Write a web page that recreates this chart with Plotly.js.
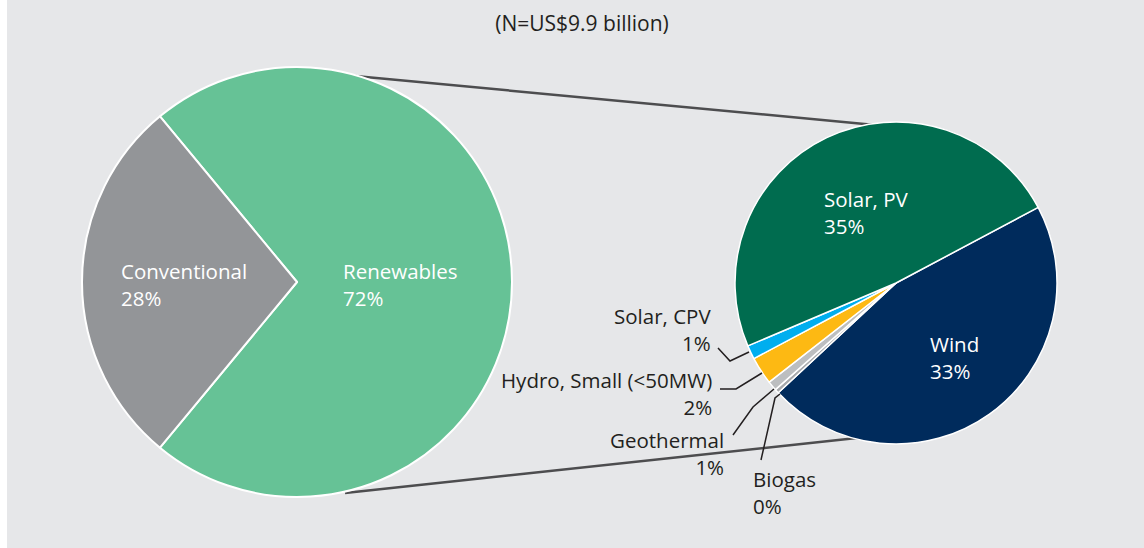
<!DOCTYPE html>
<html>
<head>
<meta charset="utf-8">
<script src="https://cdn.plot.ly/plotly-3.0.1.min.js"></script>
<style>html,body{margin:0;padding:0;background:#fff;}#chart{width:1144px;height:548px;}</style>
</head>
<body>
<div id="chart"></div>
<script>
// ---- data ----
const mainLabels = ["Renewables", "Conventional"];
const mainValues = [72, 28];
const mainColors = ["#66c296", "#939598"];

const subLabels = ["Wind", "Biogas", "Geothermal", "Hydro, Small (<50MW)", "Solar, CPV", "Solar, PV"];
const subValues = [33, 0.3, 0.7, 2, 1, 35];
const subColors = ["#002b5c", "#a7a9ac", "#bcbec0", "#fdb913", "#00aeef", "#006c4f"];
const subPctText = ["33%", "0%", "1%", "2%", "1%", "35%"];

const titleText = "(N=US$9.9 billion)";

// ---- helpers (pixel -> paper) ----
const W = 1144, H = 548;
const px = x => x / W;
const py = y => 1 - y / H;

const FONT = "'Open Sans', 'Noto Sans', sans-serif";
const FS = 20.5;
const dark = "#231f20";

const traces = [
  {
    type: "pie", labels: mainLabels, values: mainValues, sort: false,
    direction: "clockwise", rotation: 320.4,
    marker: {colors: mainColors, line: {color: "#ffffff", width: 2}},
    textinfo: "none", hoverinfo: "label+percent", showlegend: false,
    domain: {x: [px(82), px(512)], y: [py(497), py(67)]}
  },
  {
    type: "pie", labels: subLabels, values: subValues, sort: false,
    direction: "clockwise", rotation: 62,
    marker: {colors: subColors, line: {color: "#ffffff", width: 1.5}},
    textinfo: "none", hoverinfo: "label", showlegend: false,
    domain: {x: [px(735), px(1057)], y: [py(444), py(122)]}
  }
];

function ann(x, y, text, color, xanchor, align) {
  return {x: px(x), y: py(y), xref: "paper", yref: "paper", text: text, showarrow: false,
    xanchor: xanchor, yanchor: "middle", align: align,
    font: {family: FONT, size: FS, color: color}};
}

const annotations = [
  ann(119, 284, mainLabels[1] + "<br>" + mainValues[1] + "%", "#ffffff", "left", "left"),
  ann(341, 284, mainLabels[0] + "<br>" + mainValues[0] + "%", "#ffffff", "left", "left"),
  ann(822, 213, subLabels[5] + "<br>" + subPctText[5], "#ffffff", "left", "left"),
  ann(928, 357, subLabels[0] + "<br>" + subPctText[0], "#ffffff", "left", "left"),
  ann(713, 329, subLabels[4] + "<br>" + subPctText[4], dark, "right", "right"),
  ann(714, 393, subLabels[3] + "<br>" + subPctText[3], dark, "right", "right"),
  ann(726, 453, subLabels[2] + "<br>" + subPctText[2], dark, "right", "right"),
  ann(751, 492, subLabels[1] + "<br>" + subPctText[1], dark, "left", "left")
];

function pathPx(pts) {
  return pts.map((p, i) => (i ? "L" : "M") + px(p[0]).toFixed(5) + "," + py(p[1]).toFixed(5)).join(" ");
}
const leader = pts => ({type: "path", xref: "paper", yref: "paper", path: pathPx(pts),
  line: {color: dark, width: 1.5}, layer: "above"});

const shapes = [
  {type: "rect", xref: "paper", yref: "paper", x0: 0, x1: px(7), y0: 0, y1: 1,
    fillcolor: "#ffffff", line: {width: 0}, layer: "below"},
  {type: "line", xref: "paper", yref: "paper", x0: px(355), y0: py(76), x1: px(875), y1: py(125),
    line: {color: "#4d4d4f", width: 2.5}, layer: "below"},
  {type: "line", xref: "paper", yref: "paper", x0: px(345), y0: py(493), x1: px(866), y1: py(437),
    line: {color: "#4d4d4f", width: 2.5}, layer: "below"},
  leader([[718, 348], [730, 361], [749, 352]]),
  leader([[720, 389], [736, 389], [762, 373]]),
  leader([[733, 435], [753, 407], [774, 389]]),
  leader([[761, 460], [775, 398], [780, 394]])
];

const layout = {
  width: W, height: H,
  margin: {l: 0, r: 0, t: 0, b: 0},
  paper_bgcolor: "#e6e7e9",
  plot_bgcolor: "#e6e7e9",
  title: {text: titleText, x: px(582), xanchor: "center", y: 1 - 24 / H, yanchor: "middle",
    font: {family: FONT, size: 21, color: dark}},
  font: {family: FONT, color: dark},
  showlegend: false,
  annotations: annotations,
  shapes: shapes
};

Plotly.newPlot("chart", traces, layout, {displayModeBar: false, staticPlot: true});
</script>
</body>
</html>
